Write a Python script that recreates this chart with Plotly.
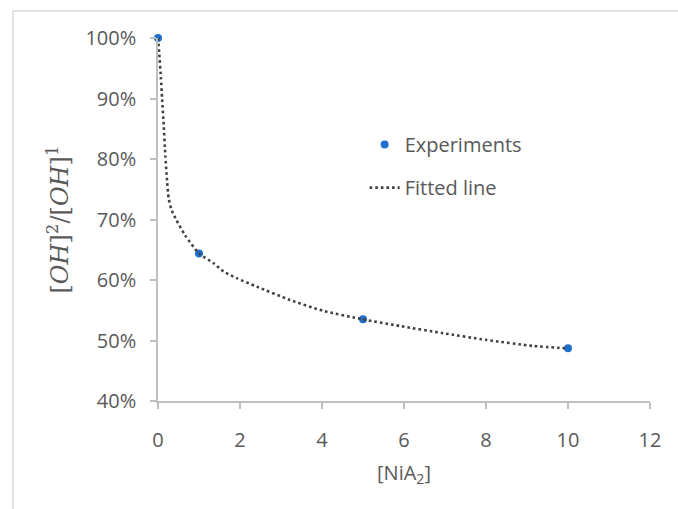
import plotly.graph_objects as go

# Experimental data
exp_x = [0, 1, 5, 10]
exp_y = [100, 64.4, 53.5, 48.7]  # percent

# Fitted curve
fit_x = [0, 0.03, 0.07, 0.1, 0.14, 0.18, 0.22, 0.26, 0.33, 0.45, 0.66, 1.0,
         1.35, 1.6, 1.92, 2.41, 3.22, 4.03, 5.0, 5.9, 6.96, 8.0, 9.15, 10]
fit_y = [100, 97.5, 93.5, 90, 85.5, 80.5, 76.5, 73.5, 71.6, 69.9, 67.4, 64.4,
         62.8, 61.4, 60.3, 58.9, 56.7, 54.9, 53.5, 52.4, 51.2, 50.1, 49.1, 48.7]

x_ticks = [0, 2, 4, 6, 8, 10, 12]
y_ticks = [40, 50, 60, 70, 80, 90, 100]
y_tick_labels = ["40%", "50%", "60%", "70%", "80%", "90%", "100%"]

GRAY = "#595959"
AXIS = "#bfbfbf"
FONT = "Open Sans"

fig = go.Figure()
fig.add_trace(go.Scatter(
    x=exp_x, y=exp_y, mode="markers", name="Experiments",
    marker=dict(color="#1f6fd0", size=8), cliponaxis=False,
    legendgroup="a",
))
fig.add_trace(go.Scatter(
    x=fit_x, y=fit_y, mode="lines", name="Fitted line",
    line=dict(color="#404040", width=2.6, dash="2.6px,3px", shape="spline", smoothing=0.6),
    cliponaxis=False, legendgroup="b",
))

# light frame (only top and left edges visible in reference)
fig.add_shape(type="rect", xref="paper", yref="paper",
              x0=-0.2947, x1=1.3, y0=-0.5, y1=1.0744,
              line=dict(color="#d9d9d9", width=1.5), layer="below")

fig.update_layout(
    width=678, height=509,
    margin=dict(l=158, r=28, t=38, b=108),
    paper_bgcolor="white", plot_bgcolor="white",
    font=dict(family=FONT, size=20, color=GRAY),
    showlegend=True,
    legend=dict(x=0.42, y=0.76, xanchor="left", yanchor="top",
                bgcolor="rgba(0,0,0,0)", font=dict(size=20, color=GRAY),
                traceorder="grouped", tracegroupgap=14),
    hovermode=False,
    xaxis=dict(
        range=[0, 12], tickvals=x_ticks, showgrid=False, zeroline=False,
        showline=True, linecolor=AXIS, linewidth=1.5,
        ticks="outside", ticklen=6, tickcolor=AXIS, tickwidth=1.5,
        ticklabelstandoff=14,
        tickfont=dict(size=20, color=GRAY),
        title=dict(text="[NiA<sub>2</sub>]", font=dict(size=20, color=GRAY), standoff=14),
    ),
    yaxis=dict(
        range=[40, 100], tickvals=y_ticks, ticktext=y_tick_labels, showgrid=False,
        zeroline=False, showline=True, linecolor=AXIS, linewidth=1.5,
        ticks="outside", ticklen=6, tickcolor=AXIS, tickwidth=1.5,
        ticklabelstandoff=10,
        tickfont=dict(size=20, color=GRAY),
        title=dict(text="[<i>OH</i>]<sup>2</sup>/[<i>OH</i>]<sup>1</sup>",
                   font=dict(size=24, color=GRAY, family="DejaVu Serif"),
                   standoff=10),
    ),
)

fig.write_html("out.html")
